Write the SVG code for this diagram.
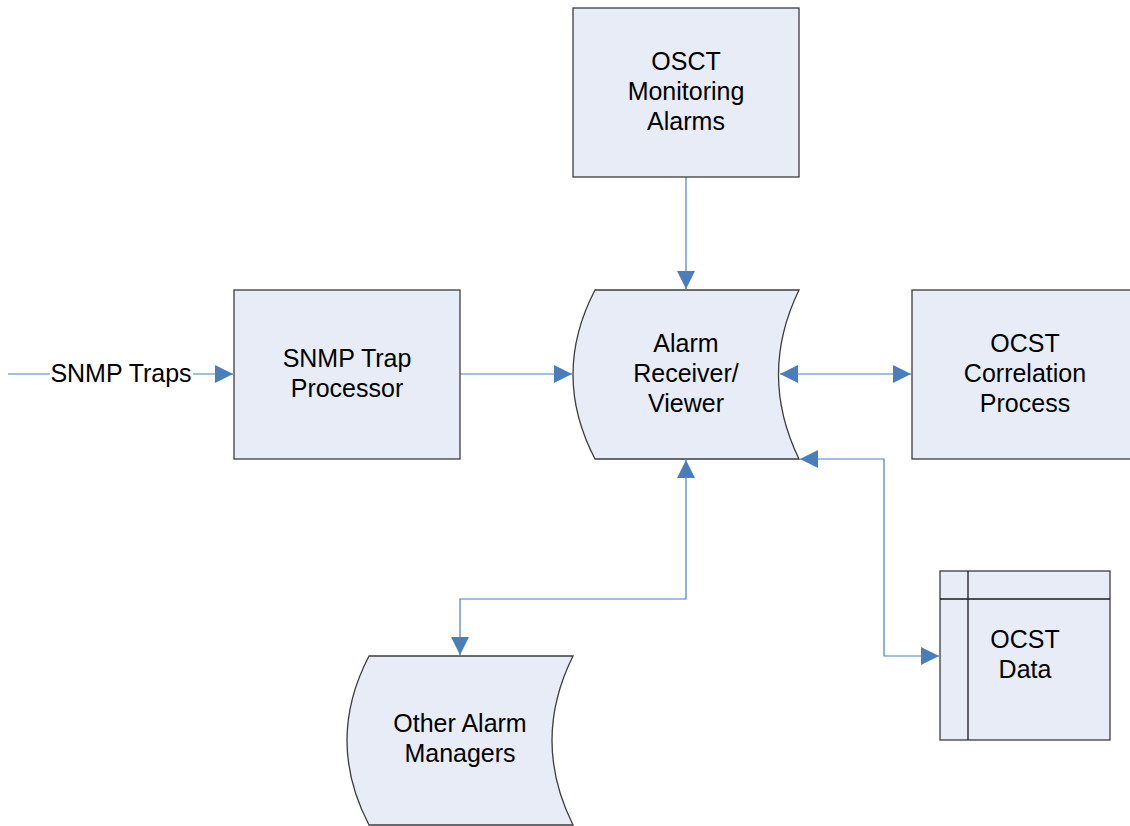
<svg xmlns="http://www.w3.org/2000/svg" width="1130" height="826" viewBox="0 0 1130 826">
<defs>
<style>
.n{fill:#e7ecf7;stroke:#3c3c3c;stroke-width:1.3}
.t{font-family:"Liberation Sans",Arial,sans-serif;font-size:25px;fill:#000;text-anchor:middle}
.c{fill:none;stroke:#4a7ebb;stroke-width:1.2}
</style>
<marker id="a" markerWidth="19" markerHeight="19" refX="18" refY="9" orient="auto-start-reverse" markerUnits="userSpaceOnUse">
<path d="M0,0 L18,9 L0,18 Z" fill="#4a7ebb"/>
</marker>
</defs>
<rect width="1130" height="826" fill="#fff"/>
<g id="connectors">
<line class="c" x1="8" y1="374" x2="233" y2="374" marker-end="url(#a)"/>
<line class="c" x1="460" y1="374" x2="572" y2="374" marker-end="url(#a)"/>
<line class="c" x1="686" y1="177" x2="686" y2="289" marker-end="url(#a)"/>
<line class="c" x1="780" y1="374" x2="911" y2="374" marker-start="url(#a)" marker-end="url(#a)"/>
<polyline class="c" points="686,460 686,599 460,599 460,655" marker-start="url(#a)" marker-end="url(#a)"/>
<polyline class="c" points="800,459 884,459 884,656 939,656" marker-start="url(#a)" marker-end="url(#a)"/>
<rect x="50" y="360" width="143" height="28" fill="#fff"/>
<text class="t" x="121" y="382">SNMP Traps</text>
</g>
<g id="osct-monitoring">
<rect class="n" x="573" y="8" width="226" height="169"/>
<text class="t" x="686" y="70">OSCT</text>
<text class="t" x="686" y="100">Monitoring</text>
<text class="t" x="686" y="130">Alarms</text>
</g>
<g id="snmp-trap-processor">
<rect class="n" x="234" y="290" width="226" height="169"/>
<text class="t" x="347" y="367">SNMP Trap</text>
<text class="t" x="347" y="397">Processor</text>
</g>
<g id="alarm-receiver">
<path class="n" d="M595,290 L799,290 Q758,374.5 799,459 L595,459 Q551,374.5 595,290 Z"/>
<text class="t" x="686" y="352">Alarm</text>
<text class="t" x="686" y="382">Receiver/</text>
<text class="t" x="686" y="412">Viewer</text>
</g>
<g id="ocst-correlation">
<rect class="n" x="912" y="290" width="226" height="169"/>
<text class="t" x="1025" y="352">OCST</text>
<text class="t" x="1025" y="382">Correlation</text>
<text class="t" x="1025" y="412">Process</text>
</g>
<g id="ocst-data">
<rect class="n" x="940" y="571" width="170" height="169"/>
<line x1="968" y1="571" x2="968" y2="740" stroke="#1a1a1a" stroke-width="1.3"/>
<line x1="940" y1="599" x2="1110" y2="599" stroke="#1a1a1a" stroke-width="1.3"/>
<text class="t" x="1025" y="648">OCST</text>
<text class="t" x="1025" y="678">Data</text>
</g>
<g id="other-alarm-managers">
<path class="n" d="M369,656 L573,656 Q531,740.5 573,825 L369,825 Q325,740.5 369,656 Z"/>
<text class="t" x="460" y="732">Other Alarm</text>
<text class="t" x="460" y="762">Managers</text>
</g>
</svg>
